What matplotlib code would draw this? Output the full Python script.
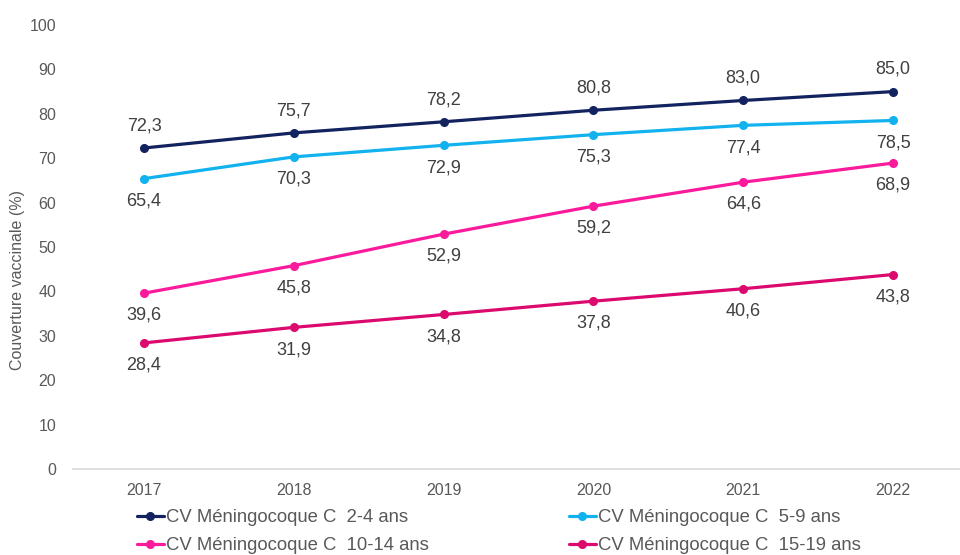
import numpy as np
import matplotlib.pyplot as plt

plt.rcParams['font.family'] = ['Liberation Sans', 'DejaVu Sans']

years = ["2017", "2018", "2019", "2020", "2021", "2022"]
cv_2_4 = [72.3, 75.7, 78.2, 80.8, 83.0, 85.0]
cv_5_9 = [65.4, 70.3, 72.9, 75.3, 77.4, 78.5]
cv_10_14 = [39.6, 45.8, 52.9, 59.2, 64.6, 68.9]
cv_15_19 = [28.4, 31.9, 34.8, 37.8, 40.6, 43.8]

labels = ["CV Méningocoque C  2-4 ans", "CV Méningocoque C  5-9 ans",
          "CV Méningocoque C  10-14 ans", "CV Méningocoque C  15-19 ans"]
colors = ["#13235f", "#12b2ef", "#fb1a9c", "#dc0a6e"]
# +1 = label above the point, -1 = below
label_side = [1, -1, -1, -1]

gray = "#595959"

fig = plt.figure(figsize=(9.6, 5.55), dpi=100)
ax = fig.add_axes([73/960, 86/555, 887/960, 444/555])

x = np.arange(len(years))
series = [cv_2_4, cv_5_9, cv_10_14, cv_15_19]
handles = []
for vals, lab, c, side in zip(series, labels, colors, label_side):
    h, = ax.plot(x, vals, color=c, lw=2.3, marker='o', ms=5.5, label=lab,
                 solid_capstyle='round')
    handles.append(h)
    for xi, v in zip(x, vals):
        txt = ("%.1f" % v).replace('.', ',')
        ax.annotate(txt, (xi, v), xytext=(0, 16 * side), textcoords='offset points',
                    ha='center', va='center', fontsize=13, color='#404040')

ax.set_xlim(-0.474, 5.447)
ax.set_ylim(0, 100)
ax.set_yticks(np.arange(0, 101, 10))
ax.set_xticks(x)
ax.set_xticklabels(years)
ax.tick_params(axis='both', length=0, labelsize=11.5, colors=gray)
ax.tick_params(axis='y', pad=12)
ax.tick_params(axis='x', pad=10)
for s in ['top', 'right', 'left']:
    ax.spines[s].set_visible(False)
ax.spines['bottom'].set_color('#d9d9d9')
ax.spines['bottom'].set_linewidth(1.2)

fig.text(18/960, (555-280)/555, "Couverture vaccinale (%)", rotation=90,
         ha='center', va='center', fontsize=11.5, color=gray)

order = [0, 2, 1, 3]
leg = fig.legend([handles[i] for i in order], [labels[i] for i in order],
                 ncol=2, loc='upper left', bbox_to_anchor=(137/960, 1 - 509/555),
                 frameon=False, fontsize=13.3, handlelength=1.45, handletextpad=0.1,
                 columnspacing=7.6, labelspacing=0.6, borderpad=0, borderaxespad=0)
for t in leg.get_texts():
    t.set_color(gray)

fig.savefig("out.png", dpi=100)
